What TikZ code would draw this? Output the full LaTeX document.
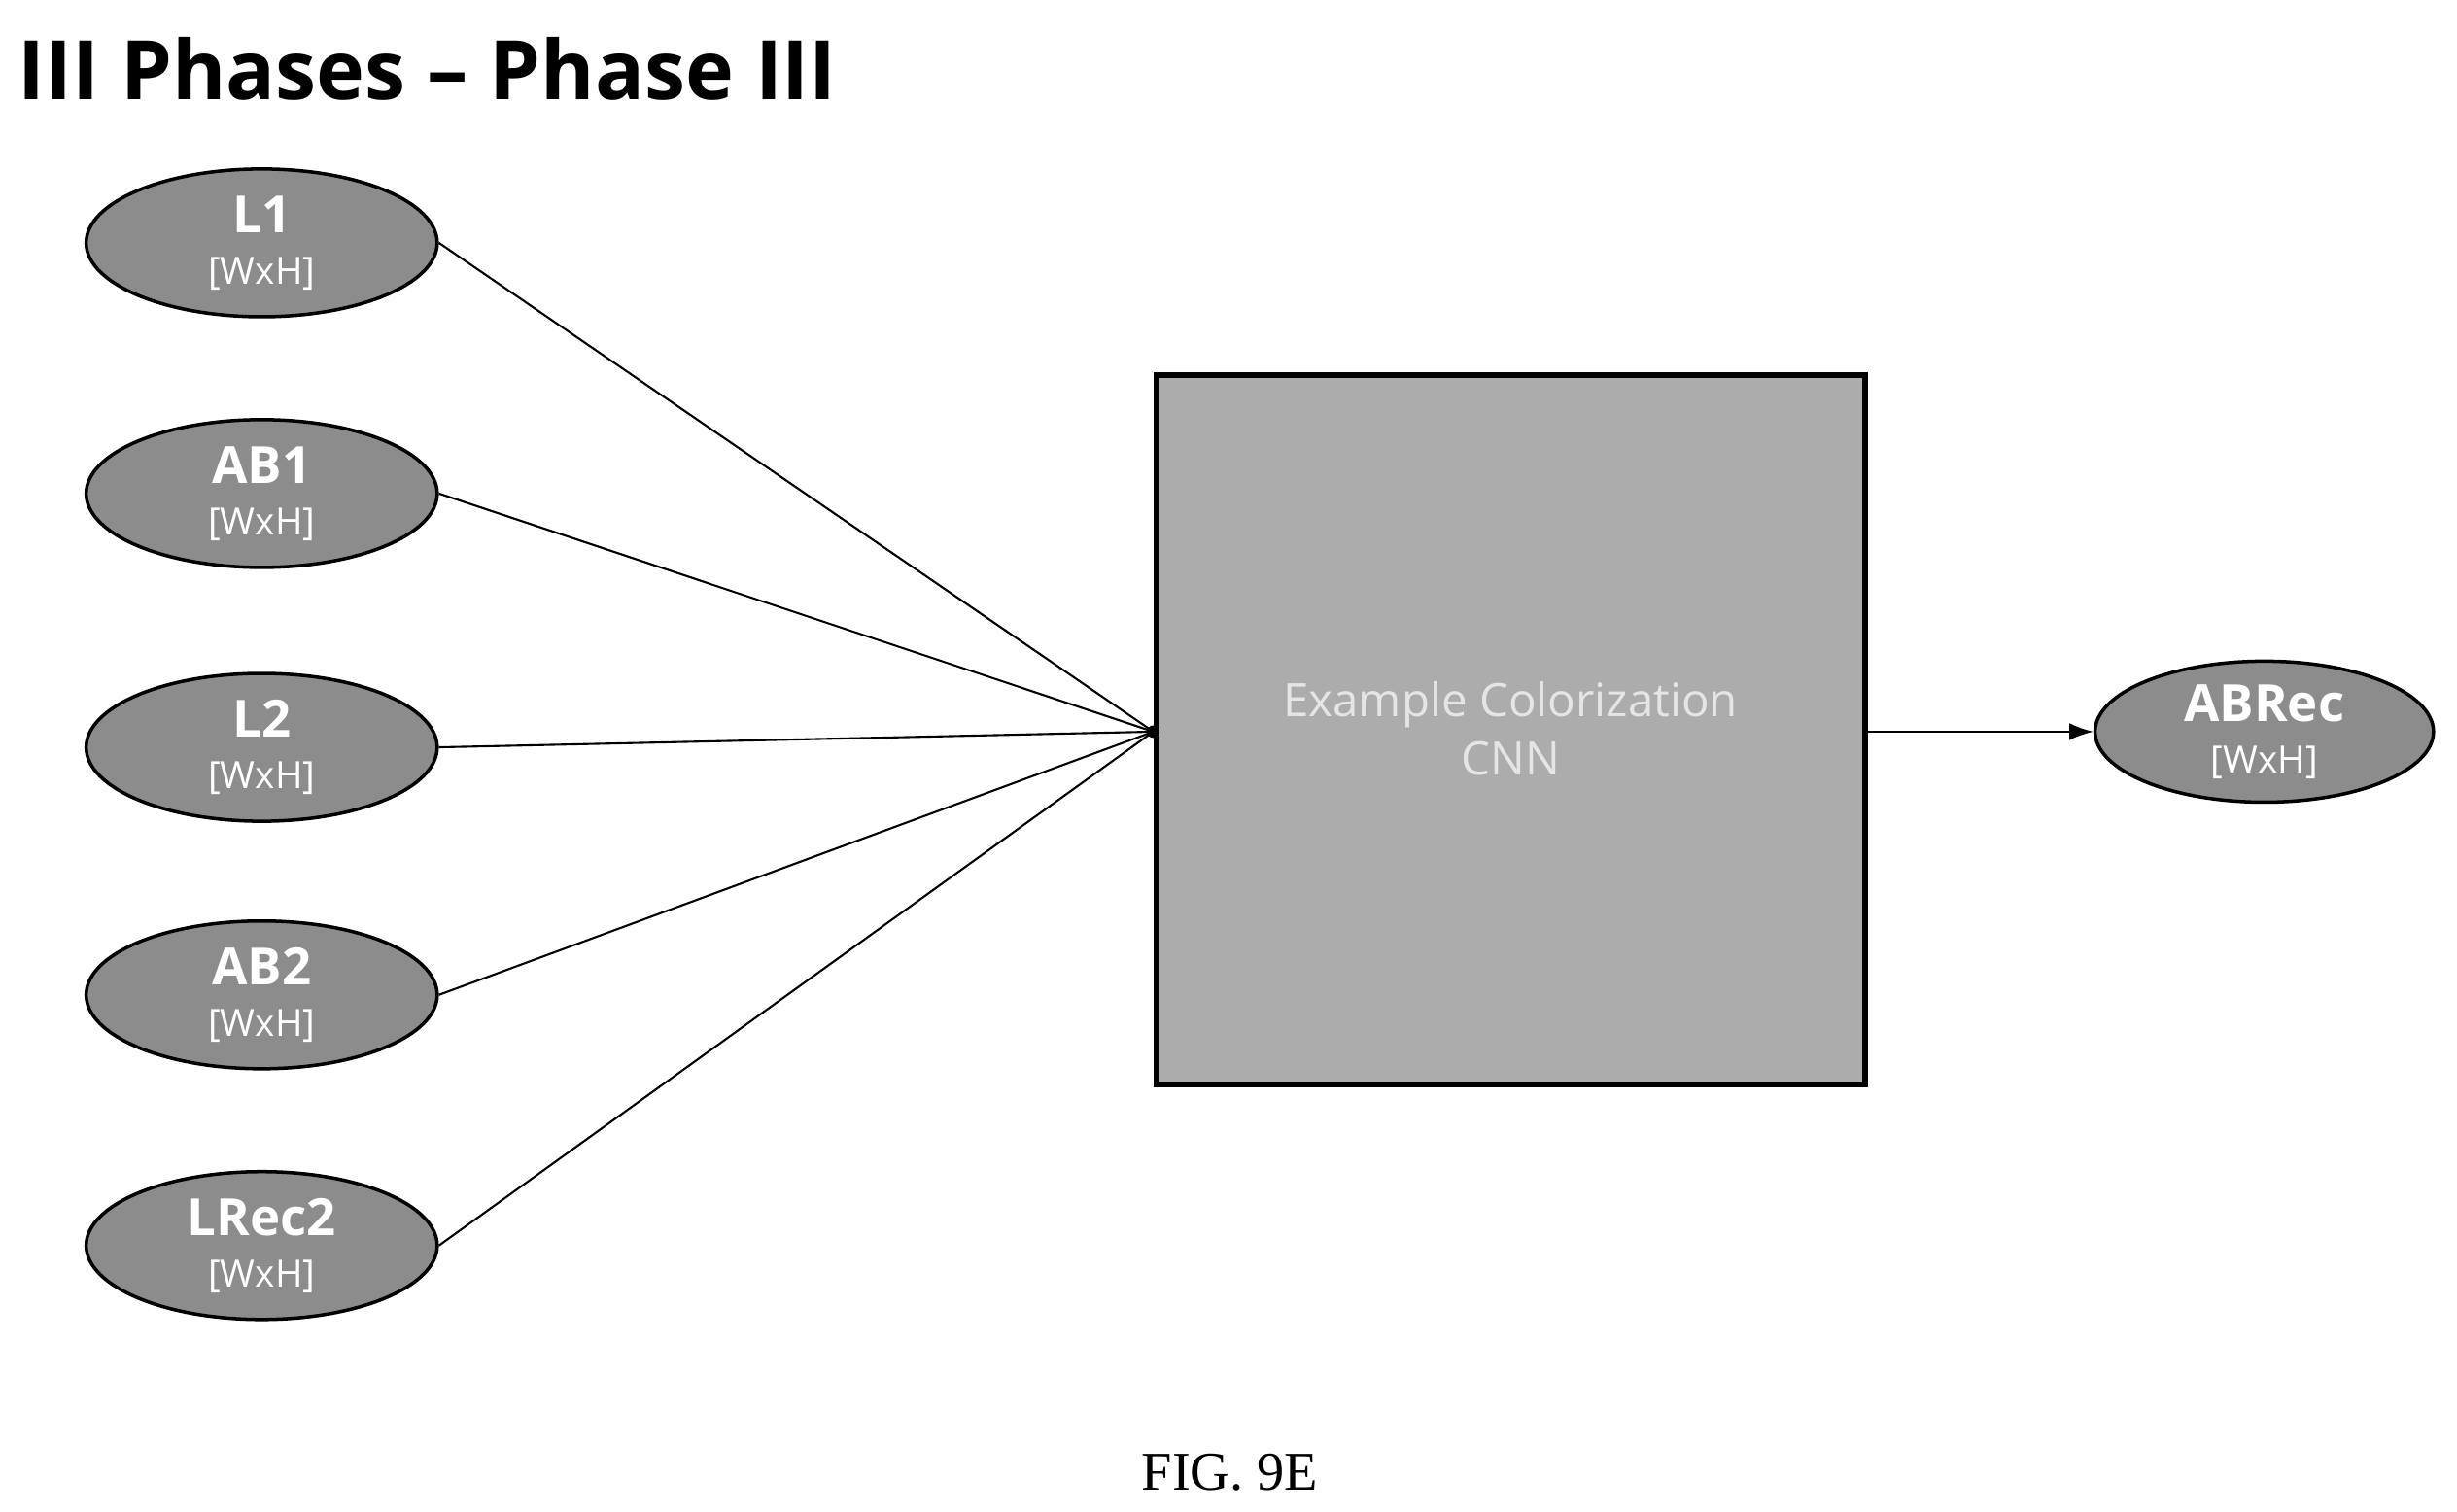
\documentclass[tikz,border=0pt]{standalone}
\usepackage{fontspec}
\setmainfont{Liberation Serif}
\newfontfamily\osf{Open Sans}
\usetikzlibrary{shapes.geometric,arrows.meta}
\begin{document}
\begin{tikzpicture}[x=0.01612cm,y=-0.01612cm,
  ell/.style={ellipse,draw=black,line width=1pt,fill=gray!90,minimum width=3.61cm,minimum height=1.52cm,text=white,align=center,font=\osf,inner sep=0pt},
  conn/.style={draw=black,line width=0.6pt}]
\useasboundingbox (0,0) rectangle (1568,965);
\node[anchor=west,font=\osf\bfseries\fontsize{24}{26}\selectfont] (title) at (4,44) {III Phases – Phase III};
\newcommand{\lab}[1]{{\bfseries\fontsize{15}{17}\selectfont #1}\\[3pt]{\fontsize{11}{13}\selectfont [WxH]}}
\node[ell] (l1) at (167,155) {\lab{L1}};
\node[ell] (ab1) at (167,315) {\lab{AB1}};
\node[ell] (l2) at (167,477) {\lab{L2}};
\node[ell] (ab2) at (167,635) {\lab{AB2}};
\node[ell] (lr2) at (167,795) {\lab{LRec2}};
\node[draw=black,line width=1.5pt,fill=gray!65,minimum width=7.29cm,minimum height=7.3cm,inner sep=0pt] (cnn) at (964,466) {};
\node[text=gray!20,align=center,font=\osf\fontsize{13.5}{17}\selectfont] (cnnt) at (964,465) {Example Colorization\\CNN};
\coordinate (in) at (736,467);
\foreach \n in {l1,ab1,l2,ab2,lr2} \draw[conn] (\n.east) -- (in);
\fill (in) circle (4);
\node[ell,minimum width=3.48cm,minimum height=1.45cm] (abr) at (1445,467) {\lab{ABRec}};
\draw[conn,-{Latex[length=7pt,width=5pt]}] (cnn.east |- in) -- (abr.west);
\node[font=\fontsize{16}{20}\selectfont] (fig) at (785,940) {FIG. 9E};
\end{tikzpicture}
\end{document}
